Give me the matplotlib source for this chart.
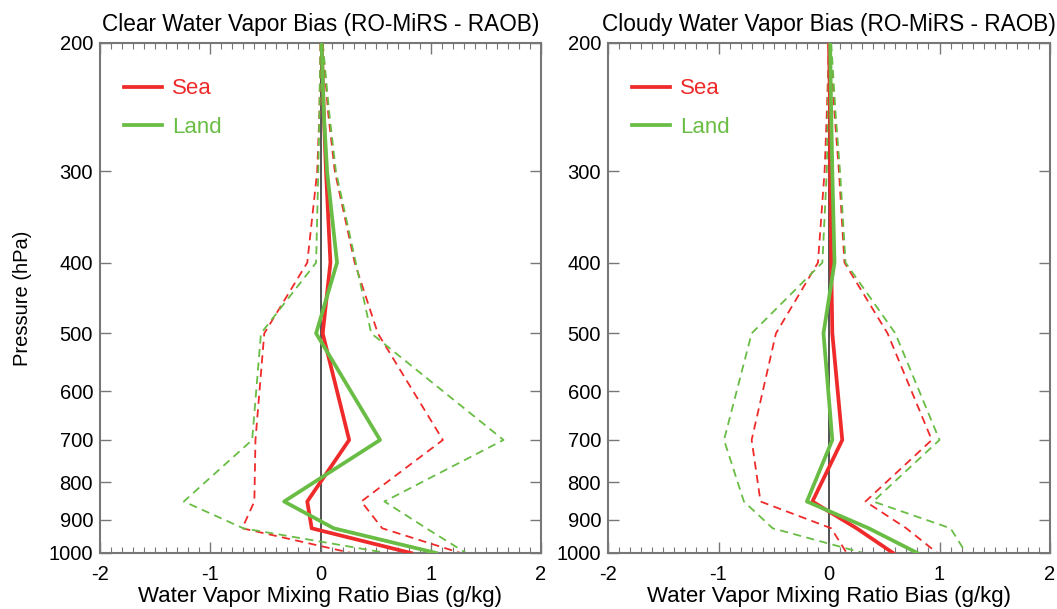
import numpy as np
import matplotlib
matplotlib.use("Agg")
import matplotlib.pyplot as plt
from matplotlib.ticker import FixedLocator, MultipleLocator, NullLocator

plt.rcParams['font.family'] = ['Liberation Sans', 'DejaVu Sans']

# pressure levels (hPa)
levels = [200, 250, 300, 400, 500, 700, 850, 925, 1000]

# clear sky panel
clear_sea_mean = [0.01, 0.03, 0.05, 0.09, 0.02, 0.26, -0.12, -0.08, 0.82]
clear_sea_lo = [0.0, -0.01, -0.03, -0.12, -0.51, -0.59, -0.60, -0.71, 0.28]
clear_sea_hi = [0.02, 0.07, 0.13, 0.31, 0.52, 1.11, 0.37, 0.56, 1.27]
clear_land_mean = [0.01, 0.03, 0.06, 0.15, -0.04, 0.54, -0.33, 0.12, 1.05]
clear_land_lo = [0.0, -0.01, -0.02, -0.04, -0.54, -0.62, -1.24, -0.70, 0.60]
clear_land_hi = [0.02, 0.08, 0.14, 0.32, 0.46, 1.66, 0.58, 0.96, 1.32]

# cloudy panel
cloudy_sea_mean = [0.0, 0.01, 0.01, 0.02, 0.03, 0.12, -0.15, 0.25, 0.58]
cloudy_sea_lo = [0.0, -0.02, -0.04, -0.10, -0.48, -0.70, -0.62, 0.02, 0.16]
cloudy_sea_hi = [0.01, 0.05, 0.09, 0.14, 0.53, 0.93, 0.33, 0.70, 0.98]
cloudy_land_mean = [0.01, 0.02, 0.03, 0.05, -0.05, 0.03, -0.20, 0.36, 0.80]
cloudy_land_lo = [0.0, -0.01, -0.02, -0.06, -0.70, -0.95, -0.77, -0.51, 0.31]
cloudy_land_hi = [0.02, 0.06, 0.10, 0.15, 0.60, 1.00, 0.40, 1.10, 1.24]

titles = ['Clear Water Vapor Bias (RO-MiRS - RAOB)',
          'Cloudy Water Vapor Bias (RO-MiRS - RAOB)']
yticks = [200, 300, 400, 500, 600, 700, 800, 900, 1000]
xticks = [-2, -1, 0, 1, 2]

RED = '#ef2a2a'
GREEN = '#69bd45'
AXC = '#777777'

fig = plt.figure(figsize=(10.57, 6.09), dpi=100)
ax1 = fig.add_axes([100/1057, 1 - 553/609, 441/1057, 510/609])
ax2 = fig.add_axes([608/1057, 1 - 553/609, 442/1057, 510/609])

panels = [
    (ax1, clear_sea_mean, clear_sea_lo, clear_sea_hi, clear_land_mean, clear_land_lo, clear_land_hi),
    (ax2, cloudy_sea_mean, cloudy_sea_lo, cloudy_sea_hi, cloudy_land_mean, cloudy_land_lo, cloudy_land_hi),
]

for i, (ax, sm, slo, shi, lm, llo, lhi) in enumerate(panels):
    ax.axvline(0, color='#333333', lw=1.2, zorder=1)
    for lo_hi in (slo, shi):
        ax.plot(lo_hi, levels, color=RED, lw=1.3, dashes=(4.5, 3), zorder=2)
    for lo_hi in (llo, lhi):
        ax.plot(lo_hi, levels, color=GREEN, lw=1.3, dashes=(4.5, 3), zorder=2)
    ax.plot(sm, levels, color=RED, lw=2.7, label='Sea', zorder=3)
    ax.plot(lm, levels, color=GREEN, lw=2.7, label='Land', zorder=3)

    ax.set_yscale('log')
    ax.set_ylim(1000, 200)
    ax.set_xlim(-2, 2)
    ax.yaxis.set_major_locator(FixedLocator(yticks))
    ax.yaxis.set_minor_locator(NullLocator())
    ax.set_yticklabels([str(t) for t in yticks])
    ax.set_xticks(xticks)
    ax.set_xticklabels([str(t) for t in xticks])
    ax.xaxis.set_minor_locator(MultipleLocator(0.1))
    ax.tick_params(which='both', direction='in', top=True, right=True,
                   color=AXC, labelsize=14.5, pad=5)
    ax.tick_params(which='major', length=8, width=1)
    ax.tick_params(which='minor', length=4, width=0.8)
    ax.tick_params(axis='x', pad=9)
    for s in ax.spines.values():
        s.set_color(AXC)
        s.set_linewidth(1.5)
    ax.set_title(titles[i], fontsize=16.3, pad=9)
    ax.set_xlabel('Water Vapor Mixing Ratio Bias (g/kg)', fontsize=16, labelpad=1)
    leg = ax.legend(loc='upper left', frameon=False, fontsize=16,
                    handlelength=1.75, handletextpad=0.45, labelspacing=0.8,
                    bbox_to_anchor=(0.008, 0.97), labelcolor='linecolor')

ax1.set_ylabel('Pressure (hPa)', fontsize=14.5, labelpad=12)

fig.savefig('out.png', dpi=100)
